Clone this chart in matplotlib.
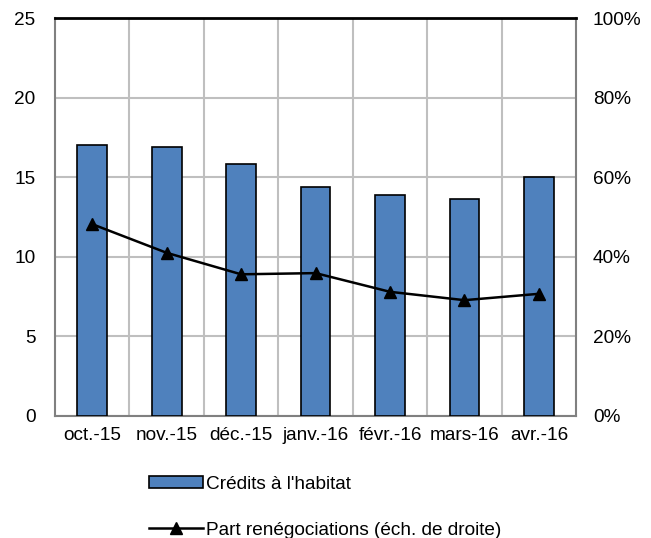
import matplotlib
matplotlib.use("Agg")
import matplotlib.pyplot as plt
from matplotlib.ticker import FuncFormatter

plt.rcParams['font.family'] = ['Liberation Sans', 'DejaVu Sans']

months = ['oct.-15', 'nov.-15', 'déc.-15', 'janv.-16', 'févr.-16', 'mars-16', 'avr.-16']
credits = [17.0, 16.9, 15.8, 14.4, 13.9, 13.6, 15.0]
part_reneg = [48.2, 41.0, 35.6, 35.9, 31.2, 29.1, 30.7]

fs = 13.7
fig = plt.figure(figsize=(6.51, 5.38), dpi=100)
ax = fig.add_axes([0.0845, 0.2268, 0.8005, 0.7397])

x = range(len(months))
bars = ax.bar(x, credits, width=0.4, color='#4f81bd', edgecolor='black',
              linewidth=1.2, zorder=3, label="Crédits à l'habitat")
ax.set_xlim(-0.5, len(months) - 0.5)
ax.set_ylim(0, 25)
ax.set_yticks([0, 5, 10, 15, 20, 25])
ax.set_xticks(list(x))
ax.set_xticklabels(months)

# grid: horizontal at y ticks, vertical at category boundaries
ax.set_xticks([i + 0.5 for i in range(len(months) - 1)], minor=True)
ax.grid(axis='y', which='major', color='#bfbfbf', linewidth=1.5, zorder=0)
ax.grid(axis='x', which='minor', color='#bfbfbf', linewidth=1.5, zorder=0)
ax.tick_params(axis='both', which='both', length=0, labelsize=fs)
ax.tick_params(axis='x', pad=8)
ax.tick_params(axis='y', pad=14)

for side in ['left', 'right', 'bottom']:
    ax.spines[side].set_color('#808080')
    ax.spines[side].set_linewidth(1.5)
ax.spines['top'].set_color('black')
ax.spines['top'].set_linewidth(2)

ax2 = ax.twinx()
line, = ax2.plot(x, part_reneg, color='black', linewidth=1.8, marker='^',
                 markersize=9, zorder=4, label='Part renégociations (éch. de droite)')
ax2.set_ylim(0, 100)
ax2.set_yticks([0, 20, 40, 60, 80, 100])
ax2.yaxis.set_major_formatter(FuncFormatter(lambda v, p: f"{int(v)}%"))
ax2.tick_params(axis='y', length=0, labelsize=fs, pad=12)
for s in ax2.spines.values():
    s.set_visible(False)

fig.legend(handles=[bars, line], loc='upper left', bbox_to_anchor=(0.215, 0.133),
           frameon=False, fontsize=fs, handlelength=2.8, handleheight=0.55,
           handletextpad=0.15, labelspacing=1.5, borderpad=0)

fig.savefig('out.png', dpi=100)
